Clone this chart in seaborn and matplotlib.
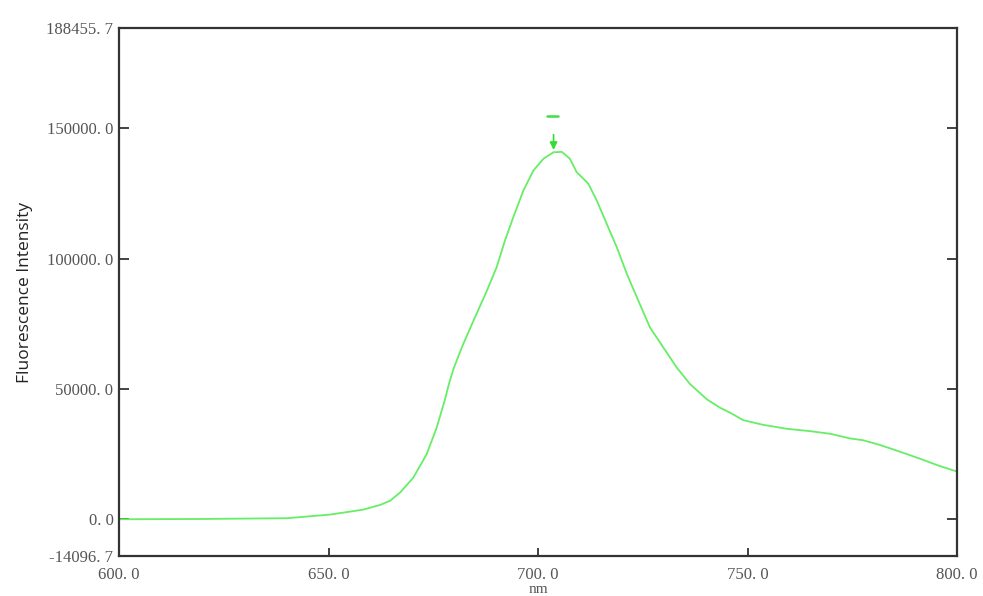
import matplotlib
matplotlib.use("Agg")
import matplotlib.pyplot as plt
import seaborn as sns
import pandas as pd

wavelength = [600.0, 619.3, 640.1, 650.4, 658.3, 662.3, 664.7, 667.1, 670.2, 673.4,
              675.8, 677.8, 678.8, 679.8, 681.8, 684.6, 687.8, 690.1, 692.1, 694.1, 696.5,
              698.9, 701.3, 703.7, 705.7, 707.6, 709.2, 710.4, 712.0, 714.0, 716.4,
              718.8, 721.2, 723.6, 726.7, 729.9, 733.1, 736.3, 740.3, 743.4, 745.8,
              749.0, 753.8, 759.4, 764.9, 769.7, 774.5, 777.6, 781.6, 786.4, 791.2,
              795.9, 800.0]
intensity = [0, 100, 400, 1800, 3700, 5500, 7100, 10300, 15900, 24900,
             35100, 46000, 52300, 57600, 65900, 76200, 87700, 96600, 106900, 115900, 126100,
             133800, 138300, 140800, 140900, 138300, 133200, 131300, 128700, 122300, 113300,
             104300, 94100, 85100, 73600, 65900, 58200, 51800, 46000, 42800, 40900,
             38000, 36200, 34700, 33800, 32800, 31000, 30300, 28500, 25900, 23200,
             20400, 18300]

y_ticks = [-14096.7, 0.0, 50000.0, 100000.0, 150000.0, 188455.7]
y_tick_labels = ["-14096. 7", "0. 0", "50000. 0", "100000. 0", "150000. 0", "188455. 7"]
x_ticks = [600.0, 650.0, 700.0, 750.0, 800.0]
x_tick_labels = ["600. 0", "650. 0", "700. 0", "750. 0", "800. 0"]

peak_x = 703.7
peak_y = 140600
mark_x = 703.5
mark_y = 154600

df = pd.DataFrame({"nm": wavelength, "Fluorescence Intensity": intensity})

sns.set_style("white")
fig = plt.figure(figsize=(9.83, 5.96), dpi=100)
ax = fig.add_axes([0.1211, 0.0671, 0.8525, 0.886])

sns.lineplot(data=df, x="nm", y="Fluorescence Intensity", ax=ax,
             color="#66ee66", linewidth=1.3)

ax.set_xlim(600, 800)
ax.set_ylim(-14096.7, 188455.7)
ax.set_xticks(x_ticks)
ax.set_xticklabels(x_tick_labels, fontfamily="Liberation Serif", fontsize=12, color="#555555")
ax.set_yticks(y_ticks)
ax.set_yticklabels(y_tick_labels, fontfamily="Liberation Serif", fontsize=12, color="#555555")

ax.tick_params(axis="x", direction="in", length=6, width=1.3, color="#333333",
               bottom=True, top=False, pad=8)
ax.tick_params(axis="y", direction="in", length=7, width=1.3, color="#333333",
               left=True, right=True, pad=4)

for s in ax.spines.values():
    s.set_color("#333333")
    s.set_linewidth(1.6)
    s.set_visible(True)

ax.set_xlabel("nm", fontfamily="Liberation Serif", fontsize=11, color="#555555", labelpad=0)
ax.set_ylabel("Fluorescence Intensity", fontfamily="Open Sans", fontsize=12.5,
              color="#222222", labelpad=10)

# peak marker
ax.plot([mark_x - 1.35, mark_x + 1.35], [mark_y, mark_y], color="#44dd44", linewidth=1.8)
ax.annotate("", xy=(peak_x, peak_y), xytext=(peak_x, peak_y + 8000),
            arrowprops=dict(arrowstyle="-|>", color="#33dd33", lw=1.2,
                            mutation_scale=11))

fig.savefig("out.png", dpi=100)
